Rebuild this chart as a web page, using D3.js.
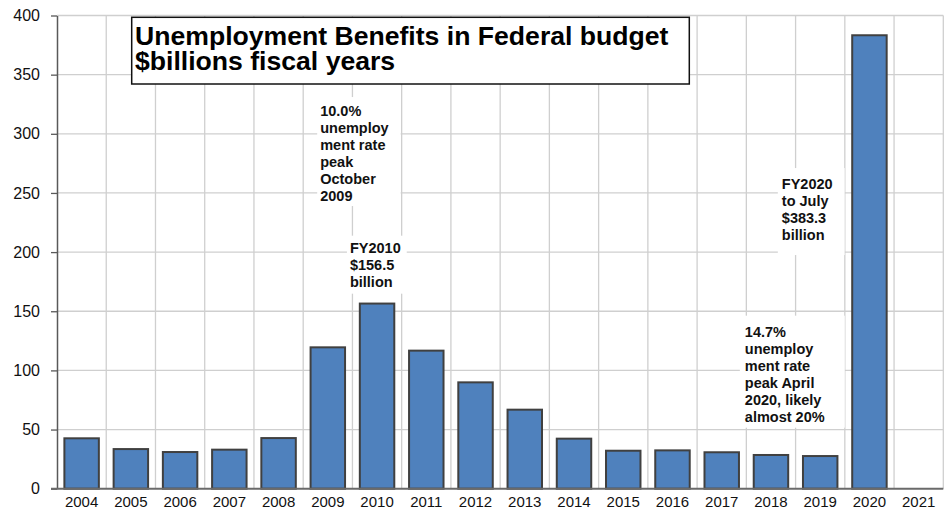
<!DOCTYPE html>
<html>
<head>
<meta charset="utf-8">
<script src="https://cdn.jsdelivr.net/npm/d3@7"></script>
<style>
  body { margin: 0; background: #fff; }
  svg { display: block; font-family: "Liberation Sans", Arial, sans-serif; }
</style>
</head>
<body>
<svg id="chart" width="951" height="510"></svg>
<script>
// fiscal years and outlays ($ billions)
const years = ['2004', '2005', '2006', '2007', '2008', '2009', '2010', '2011', '2012',
    '2013', '2014', '2015', '2016', '2017', '2018', '2019', '2020', '2021'];
const outlays = [42.6, 33.5, 31.0, 33.0, 42.8, 119.5, 156.5, 116.7, 89.9,
    66.8, 42.3, 32.1, 32.4, 30.8, 28.5, 27.6, 383.3, null];
const yTicks = [0, 50, 100, 150, 200, 250, 300, 350, 400];
const titleLines = ['Unemployment Benefits in Federal budget', '$billions fiscal years'];
const note2009 = ['10.0%', 'unemploy', 'ment rate', 'peak', 'October', '2009'];
const note2010 = ['FY2010', '$156.5', 'billion'];
const note2020 = ['FY2020', 'to July', '$383.3', 'billion'];
const noteApril = ['14.7%', 'unemploy', 'ment rate', 'peak April', '2020, likely', 'almost 20%'];

const svg = d3.select('#chart');
const margin = { top: 15.5, right: 7.7, bottom: 21.3, left: 57 };
const width = +svg.attr('width');
const height = +svg.attr('height');
const x0 = margin.left, x1 = width - margin.right;
const y0 = height - margin.bottom, y1 = margin.top;

const x = d3.scaleBand().domain(years).range([x0, x1])
    .paddingInner(0.3).paddingOuter(0.15);
const y = d3.scaleLinear().domain([0, 400]).range([y0, y1]);
const step = x.step();

// grid
const grid = svg.append('g').attr('stroke', '#cfcfcf').attr('stroke-width', 1.3);
grid.selectAll('line.h')
    .data(yTicks.filter(d => d > 0))
    .enter().append('line')
    .attr('x1', x0).attr('x2', x1)
    .attr('y1', d => y(d)).attr('y2', d => y(d));
grid.selectAll('line.v')
    .data(years.slice(1).map(d => x(d) - step * 0.15).concat([x1]))
    .enter().append('line')
    .attr('x1', d => d).attr('x2', d => d)
    .attr('y1', y1).attr('y2', y0);

// white boxes behind notes, then the note text
function note(lines, year, value, dx, pad) {
    const g = svg.append('g');
    const tx = x(year) - step * 0.15 + dx;
    const ty = y(value);
    const t = g.append('text')
        .attr('font-size', 14.5)
        .attr('font-weight', 'bold')
        .attr('fill', '#111');
    lines.forEach((s, i) => {
        t.append('tspan').attr('x', tx).attr('y', ty + i * 17).text(s);
    });
    const bb = t.node().getBBox();
    g.insert('rect', 'text')
        .attr('x', bb.x - pad[3])
        .attr('y', bb.y - pad[0])
        .attr('width', bb.width + pad[1] + pad[3])
        .attr('height', bb.height + pad[0] + pad[2])
        .attr('fill', '#fff');
}
note(note2009, '2009', 315, 17, [6, 12, 2, 3]);
note(note2010, '2010', 199.5, -2.5, [4, 6, 4, 3]);
note(note2020, '2020', 253.3, -63, [8, 12, 12, 4]);
note(noteApril, '2018', 128.5, -1.5, [8, 20, 3, 5]);

// bars
svg.append('g').selectAll('rect')
    .data(years.map((d, i) => ({ year: d, v: outlays[i] })).filter(d => d.v != null))
    .enter().append('rect')
    .attr('x', d => x(d.year))
    .attr('y', d => y(d.v))
    .attr('width', x.bandwidth())
    .attr('height', d => y(0) - y(d.v))
    .attr('fill', '#4f81bd')
    .attr('stroke', '#404040')
    .attr('stroke-width', 2);

// axes
const yAxis = svg.append('g')
    .attr('transform', `translate(${x0},0)`)
    .call(d3.axisLeft(y).tickValues(yTicks).tickSize(6).tickPadding(11).tickSizeOuter(0));
yAxis.select('.domain').attr('stroke', '#595959').attr('stroke-width', 1.5);
yAxis.selectAll('.tick line').attr('stroke', '#595959').attr('stroke-width', 1.3);
yAxis.selectAll('.tick text')
    .attr('font-size', 16).attr('fill', '#111').attr('font-family', null);

const xAxis = svg.append('g')
    .attr('transform', `translate(0,${y0})`)
    .call(d3.axisBottom(x).tickSize(0).tickPadding(8).tickSizeOuter(0));
xAxis.select('.domain').attr('stroke', '#6a6a6a').attr('stroke-width', 2)
    .attr('d', `M${x0 - 6},0H${x1}`);
xAxis.selectAll('.tick text')
    .attr('font-size', 15).attr('fill', '#111').attr('font-family', null);

// title box
svg.append('rect')
    .attr('x', 131.7).attr('y', 17.3)
    .attr('width', 557.6).attr('height', 66.7)
    .attr('fill', '#fff').attr('stroke', '#111').attr('stroke-width', 1.5);
svg.append('text')
    .attr('font-size', 26.6).attr('font-weight', 'bold').attr('fill', '#000')
    .selectAll('tspan')
    .data(titleLines)
    .enter().append('tspan')
    .attr('x', 135).attr('y', (d, i) => 45 + i * 25)
    .text(d => d);
</script>
</body>
</html>
